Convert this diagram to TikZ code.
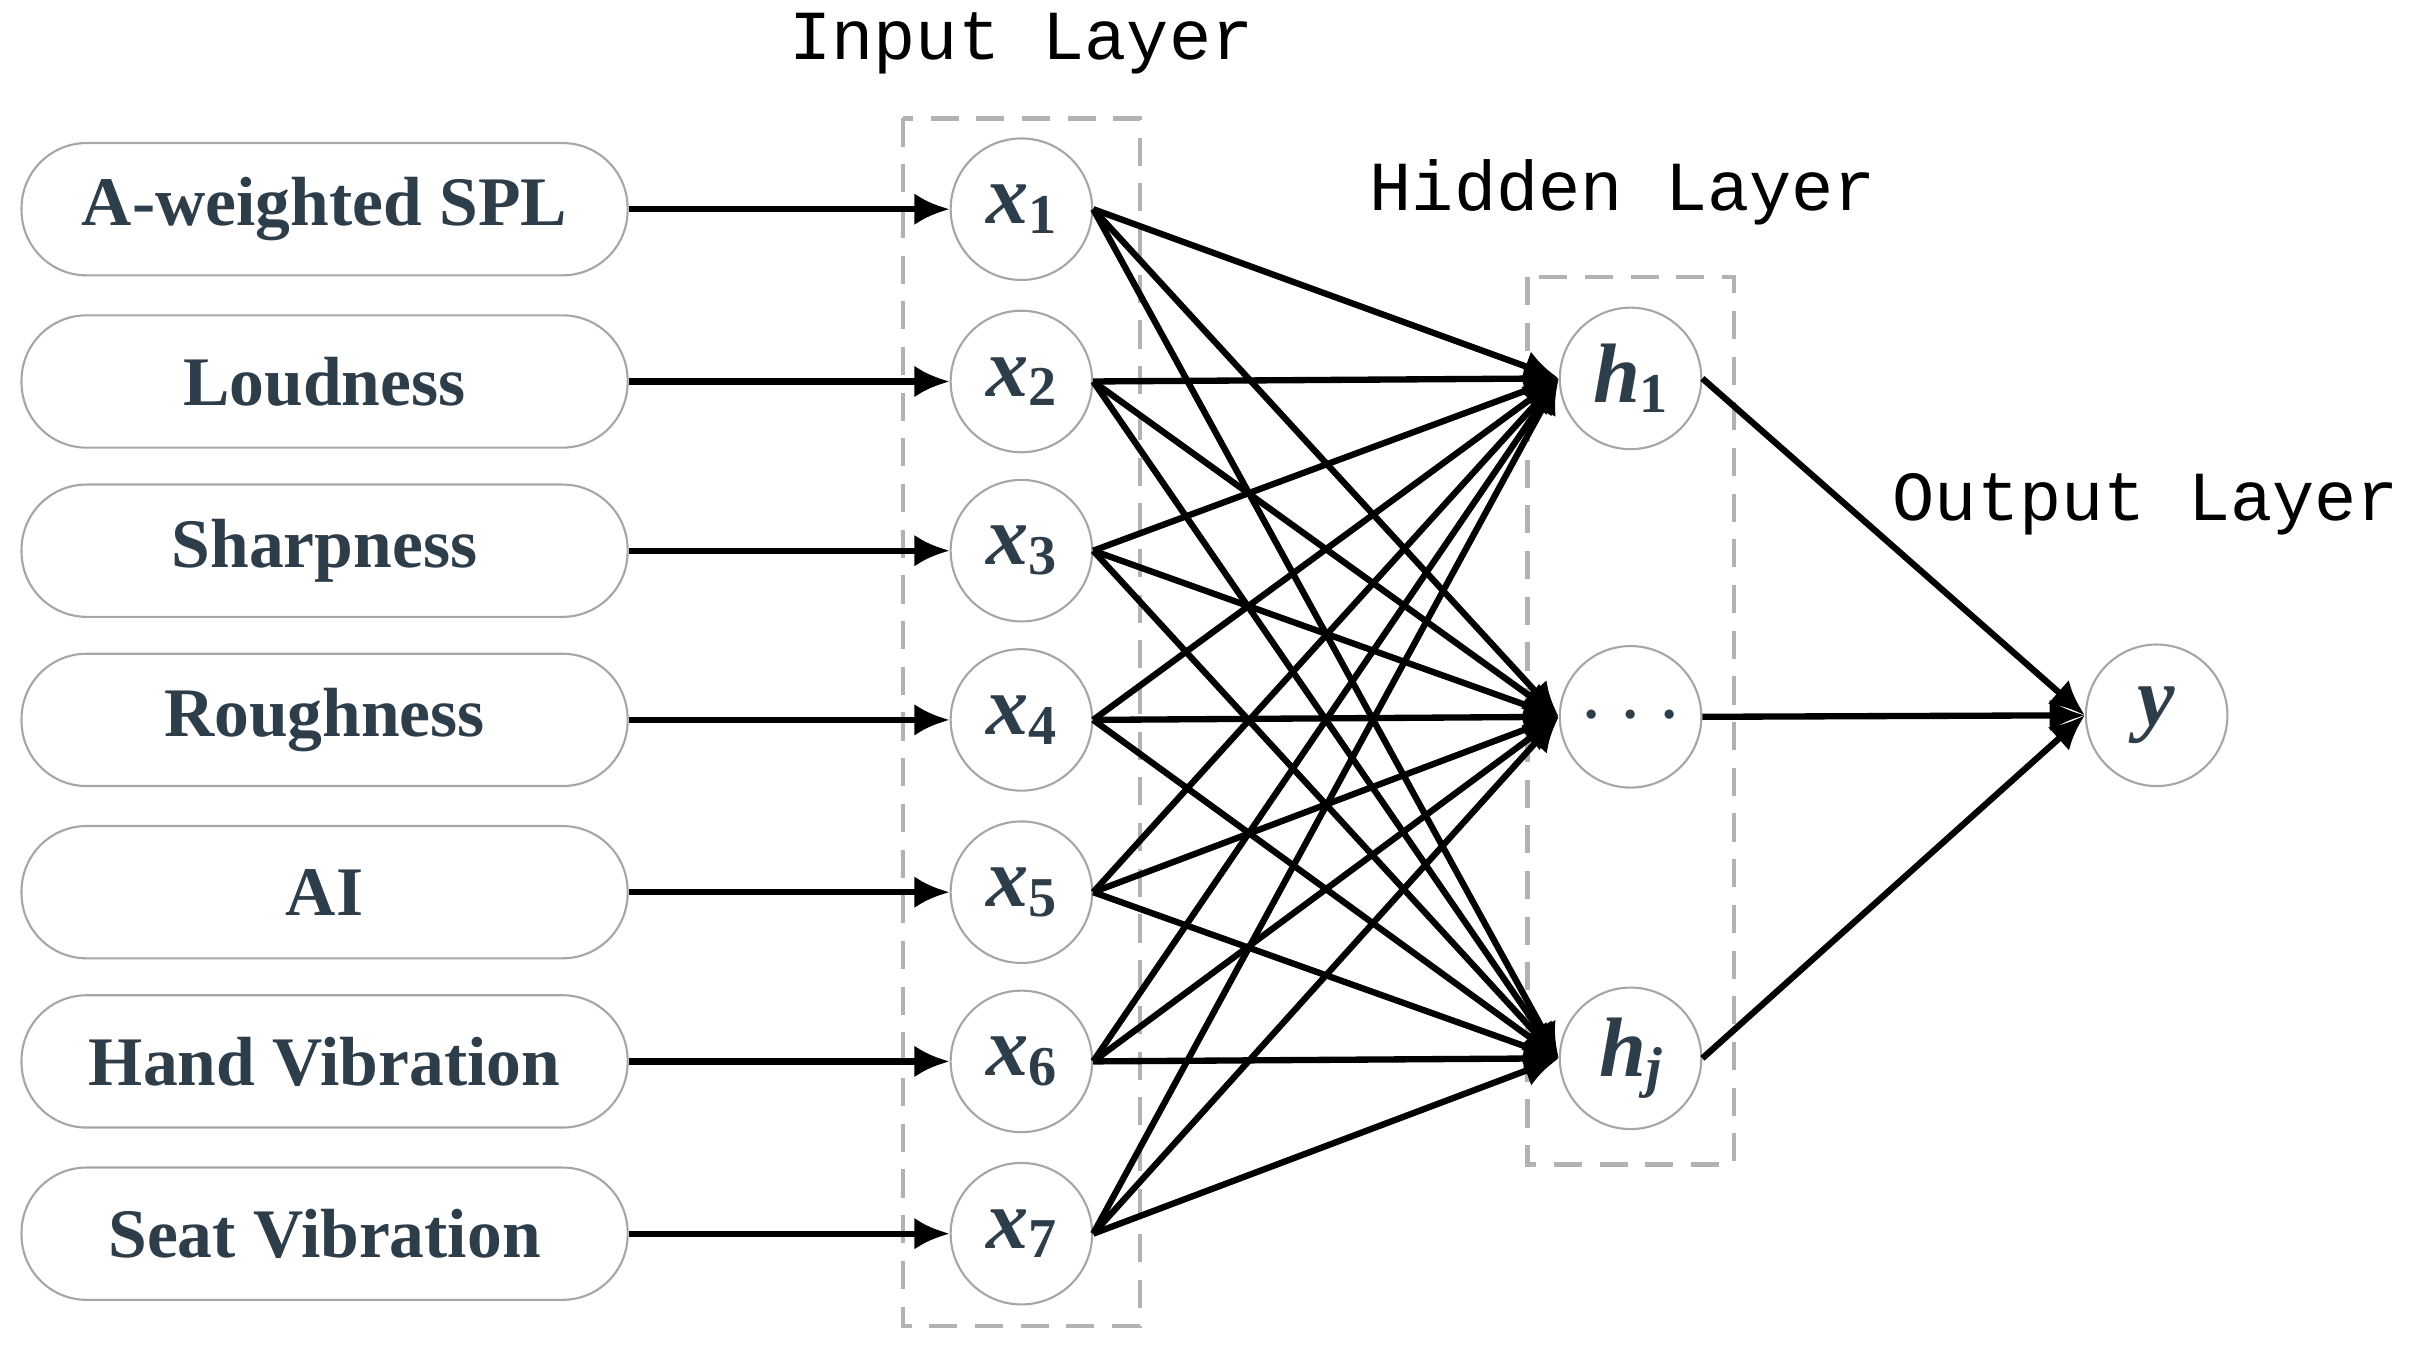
\documentclass[tikz,border=0pt]{standalone}
\usepackage{fontspec}
\setmainfont{Liberation Serif}
\newfontfamily\monof{Liberation Mono}
\usetikzlibrary{arrows.meta}
\definecolor{txt}{HTML}{2E3D4A}
\newcommand{\nv}[2]{\textit{#1}\raisebox{-0.25ex}{\fontsize{16}{16}\selectfont\upshape #2}}
\begin{document}
\begin{tikzpicture}[x=0.01538cm,y=-0.01538cm,
 box/.style={draw=gray!70,rounded corners=0.65cm,minimum width=394*0.01538cm,minimum height=86*0.01538cm,font=\fontsize{19.8}{21}\selectfont\bfseries,text=txt,line width=0.6pt},
 neu/.style={draw=gray!70,circle,minimum size=92*0.01538cm,inner sep=0pt,font=\fontsize{24}{24}\selectfont\bfseries,text=txt,line width=0.6pt},
 lay/.style={draw=gray!60,dashed,line width=1.2pt,dash pattern=on 8pt off 5pt},
 ttl/.style={font=\monof\fontsize{20}{22}\selectfont},
 con/.style={line width=1.8pt,-{Latex[length=10pt,width=9pt]}}]
\useasboundingbox (0,0) rectangle (1568,884);
\node[ttl] (ti) at (664,28) {Input Layer};
\node[ttl] (th) at (1055,125) {Hidden Layer};
\node[ttl] (to) at (1395,328) {Output Layer};
\draw[lay] (587,77) rectangle (741,862);
\draw[lay] (993,180) rectangle (1127,757);
\foreach \i/\t/\y in {1/A-weighted SPL/136,2/Loudness/248,3/Sharpness/358,4/Roughness/468,5/AI/580,6/Hand Vibration/690,7/Seat Vibration/802}{
 \node[box] (b\i) at (211,\y) {\t};
 \node[neu] (x\i) at (664,\y) {\nv{x}{\i}};
 \draw[con] (b\i) -- (x\i);
}
\node[neu] (h1) at (1060,246) {\nv{h}{1}};
\node[neu] (h2) at (1060,466) {$\cdots$};
\node[neu] (h3) at (1060,688) {\nv{h}{\itshape j}};
\node[neu] (y) at (1402,465) {\textit{y}};
\foreach \i in {1,...,7}{\foreach \j in {1,2,3}{\draw[con] (x\i.east) -- (h\j.west);}}
\foreach \j in {1,2,3}{\draw[con] (h\j.east) -- (y.west);}
\end{tikzpicture}
\end{document}
